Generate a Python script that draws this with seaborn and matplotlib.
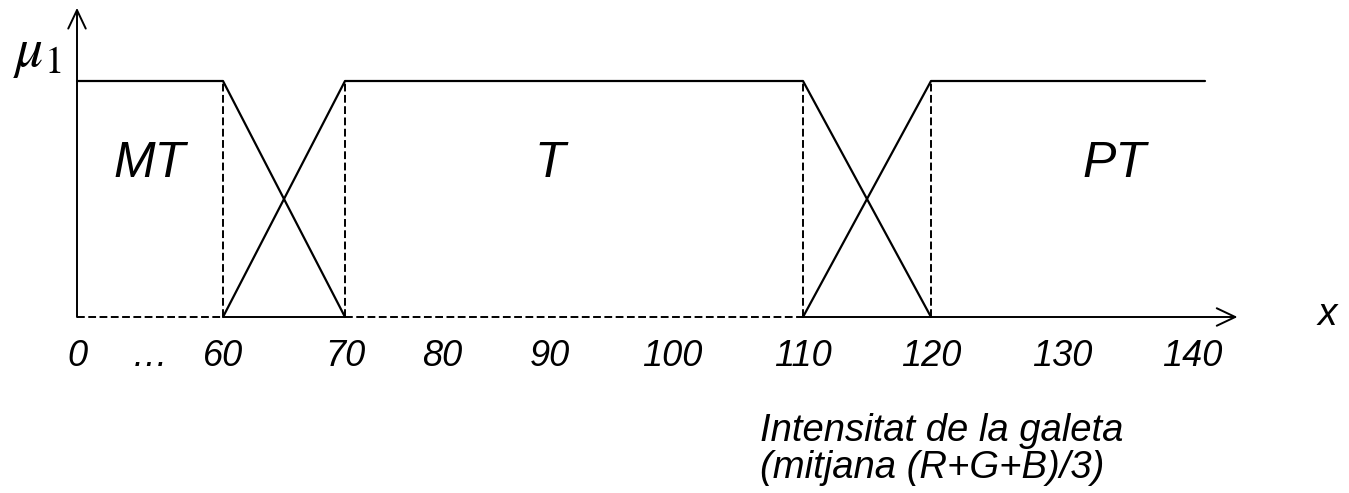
import numpy as np
import pandas as pd
import matplotlib
matplotlib.use("Agg")
import matplotlib.pyplot as plt
import seaborn as sns

# Membership functions of the three fuzzy sets (breakpoints and degrees)
mt_x = [0, 60, 70]
mt_mu = [1, 1, 0]
t_x = [60, 70, 110, 120]
t_mu = [0, 1, 1, 0]
pt_x = [110, 120, 141]
pt_mu = [0, 1, 1]

set_names = ["MT", "T", "PT"]
set_label_x = [30, 90, 134]

# Tick values along the intensity axis and their labels
tick_values = [0, 30, 60, 70, 80, 90, 100, 110, 120, 130, 140]
tick_labels = ["0", "…", "60", "70", "80", "90", "100", "110", "120", "130", "140"]

x_axis_end = 143.5
y_axis_end = 1.31

# Schematic (non-uniform) horizontal scale: value -> position
KNOT_V = np.array([0, 60, 70, 80, 90, 100, 110, 120, 130, 140, 150], float)
KNOT_P = np.array([77, 223, 345, 442, 550, 672, 803, 931, 1062, 1192, 1322], float)


def _piecewise(v, src, dst):
    v = np.asarray(v, float)
    out = np.interp(v, src, dst)
    lo_slope = (dst[1] - dst[0]) / (src[1] - src[0])
    hi_slope = (dst[-1] - dst[-2]) / (src[-1] - src[-2])
    out = np.where(v < src[0], dst[0] + (v - src[0]) * lo_slope, out)
    out = np.where(v > src[-1], dst[-1] + (v - src[-1]) * hi_slope, out)
    return out


def fwd(v):
    return _piecewise(v, KNOT_V, KNOT_P)


def inv(p):
    return _piecewise(p, KNOT_P, KNOT_V)


sns.set_theme(style="white")
plt.rcParams["font.family"] = ["Liberation Sans", "DejaVu Sans"]
plt.rcParams["mathtext.fontset"] = "stix"

W, H = 1349, 493
fig = plt.figure(figsize=(W / 100, H / 100), dpi=100)
ax = fig.add_axes([0, 0, 1, 1])
ax.set_xscale("function", functions=(fwd, inv))
ax.set_xlim(float(inv(0)), float(inv(W)))
# vertical: mu=0 at row 317, mu=1 at row 81
ax.set_ylim(-(H - 317) / 236, 317 / 236)
ax.set_axis_off()

# Solid membership curves
df = pd.concat([
    pd.DataFrame({"x": mt_x, "mu": mt_mu, "set": "MT"}),
    pd.DataFrame({"x": t_x, "mu": t_mu, "set": "T"}),
    pd.DataFrame({"x": pt_x, "mu": pt_mu, "set": "PT"}),
], ignore_index=True)
sns.lineplot(data=df, x="x", y="mu", units="set", estimator=None, sort=False,
             color="black", linewidth=1.6, ax=ax, legend=False)

# Dashed core boundaries
dash = dict(color="black", linewidth=1.4, linestyle=(0, (4, 1.8)))
ax.vlines([mt_x[1], t_x[1], t_x[2], pt_x[1]], 0, 1, **dash)
ax.hlines([0, 1], mt_x[0], mt_x[1], **dash)
ax.hlines([0, 1], t_x[1], t_x[2], **dash)

# Solid base between the overlapping transitions
ax.hlines(0, t_x[0], t_x[1], color="black", linewidth=1.4)

# Axes with open arrow heads
arrow = dict(arrowstyle="->,head_length=0.95,head_width=0.45", color="black",
             lw=1.4, shrinkA=0, shrinkB=0, mutation_scale=14)
ax.annotate("", xy=(0, y_axis_end), xytext=(0, 0), arrowprops=arrow)
ax.annotate("", xy=(x_axis_end, 0), xytext=(t_x[2], 0), arrowprops=arrow)

# Axis names
ax.text(-16.5, 1.065, r"$\mu_1$", fontsize=40, ha="center", va="baseline",
        color="black")
ax.text(150.4, -0.034, "x", fontsize=28, style="italic", ha="center",
        va="baseline", color="black")

# Set names
for name, xv in zip(set_names, set_label_x):
    ax.text(xv, 0.593, name, fontsize=36, style="italic", ha="center",
            va="baseline", color="black")

# Tick labels
for v, lab in zip(tick_values, tick_labels):
    ax.text(v, -0.208, lab, fontsize=26, style="italic", ha="center",
            va="baseline", color="black")

# Axis description
ax.text(106.7, -0.525, "Intensitat de la galeta", fontsize=27.5, style="italic",
        ha="left", va="baseline", color="black")
ax.text(106.7, -0.682, "(mitjana (R+G+B)/3)", fontsize=27.5, style="italic",
        ha="left", va="baseline", color="black")

fig.savefig("out.png", dpi=100, facecolor="white")
